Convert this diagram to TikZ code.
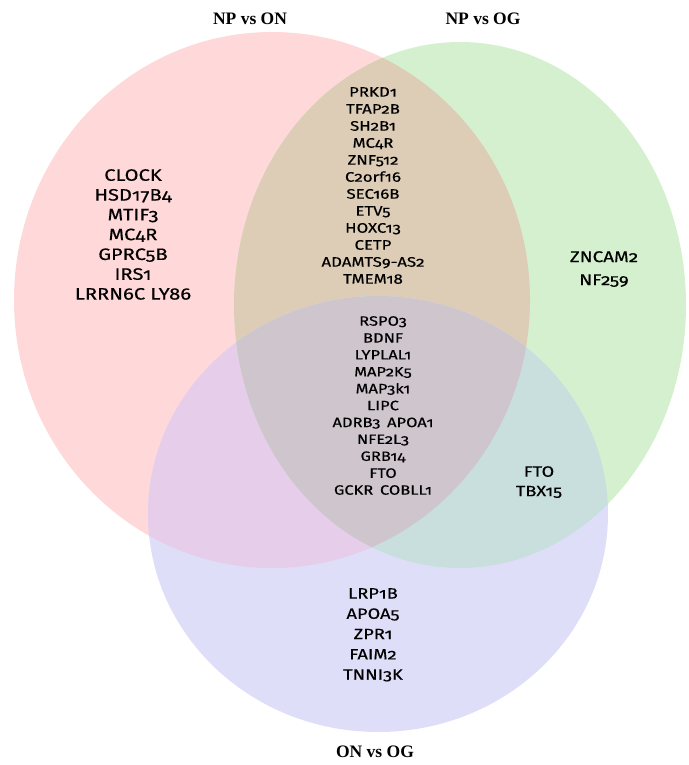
\documentclass[tikz,border=0pt]{standalone}
\usepackage{fontspec}
\setmainfont{Liberation Serif}
\newfontfamily\genefont{Fira Sans}[Numbers=OldStyle, FakeStretch=1.22, FakeBold=0.35]
\begin{document}
\begin{tikzpicture}[x=1pt, y=-1pt,
  setlabel/.style={font=\fontsize{17.5}{19}\selectfont\bfseries, anchor=center},
  genes/.style={align=center, inner sep=0pt, anchor=north},
]
\definecolor{cPink}{HTML}{FFD9D9}
\definecolor{cGreen}{HTML}{D4F0CE}
\definecolor{cBlue}{HTML}{DFDEF9}
\definecolor{cTan}{HTML}{DDCDB6}
\definecolor{cLav}{HTML}{E6CDEA}
\definecolor{cTeal}{HTML}{C8DFDE}
\definecolor{cMid}{HTML}{CEC5CD}
\useasboundingbox (0,0) rectangle (688,765);
\def\redset{(272,300) ellipse [x radius=258pt, y radius=268pt]}
\def\greenset{(460,305) ellipse [x radius=226pt, y radius=263pt]}
\def\blueset{(378,514) ellipse [x radius=230pt, y radius=218pt]}
% the three sets and their overlaps
\fill[cPink] \redset;
\fill[cGreen] \greenset;
\begin{scope}
  \clip \redset;
  \fill[cTan] \greenset;
\end{scope}
\fill[cBlue] \blueset;
\begin{scope}
  \clip \blueset;
  \fill[cLav] \redset;
  \fill[cTeal] \greenset;
  \clip \redset;
  \fill[cMid] \greenset;
\end{scope}
% set names
\node[setlabel] (lNPON) at (250,19) {NP vs ON};
\node[setlabel] (lNPOG) at (483,19) {NP vs OG};
\node[setlabel] (lONOG) at (375,752) {ON vs OG};
% gene lists
\node[genes, font=\genefont\fontsize{16.5}{19.8}\selectfont] (gRed) at (133,169)
  {CLOCK\\HSD17B4\\MTIF3\\MC4R\\GPRC5B\\IRS1\\LRRN6C LY86};
\node[genes, font=\genefont\fontsize{13.8}{17}\selectfont] (gRG) at (373,87)
  {PRKD1\\TFAP2B\\SH2B1\\MC4R\\ZNF512\\C2orf16\\SEC16B\\ETV5\\HOXC13\\CETP\\ADAMTS9-AS2\\TMEM18};
\node[genes, font=\genefont\fontsize{13.5}{16.9}\selectfont] (gAll) at (383,316)
  {RSPO3\\BDNF\\LYPLAL1\\MAP2K5\\MAP3k1\\LIPC\\ADRB3\hspace{0.5em}APOA1\\NFE2L3\\GRB14\\FTO\\GCKR\hspace{0.5em}COBLL1};
\node[genes, font=\genefont\fontsize{15.5}{23}\selectfont] (gGreen) at (604,251)
  {ZNCAM2\\NF259};
\node[genes, font=\genefont\fontsize{15}{19.5}\selectfont] (gGB) at (539,466)
  {FTO\\TBX15};
\node[genes, font=\genefont\fontsize{15}{20.3}\selectfont] (gBlue) at (373,588)
  {LRP1B\\APOA5\\ZPR1\\FAIM2\\TNNI3K};
\end{tikzpicture}
\end{document}
